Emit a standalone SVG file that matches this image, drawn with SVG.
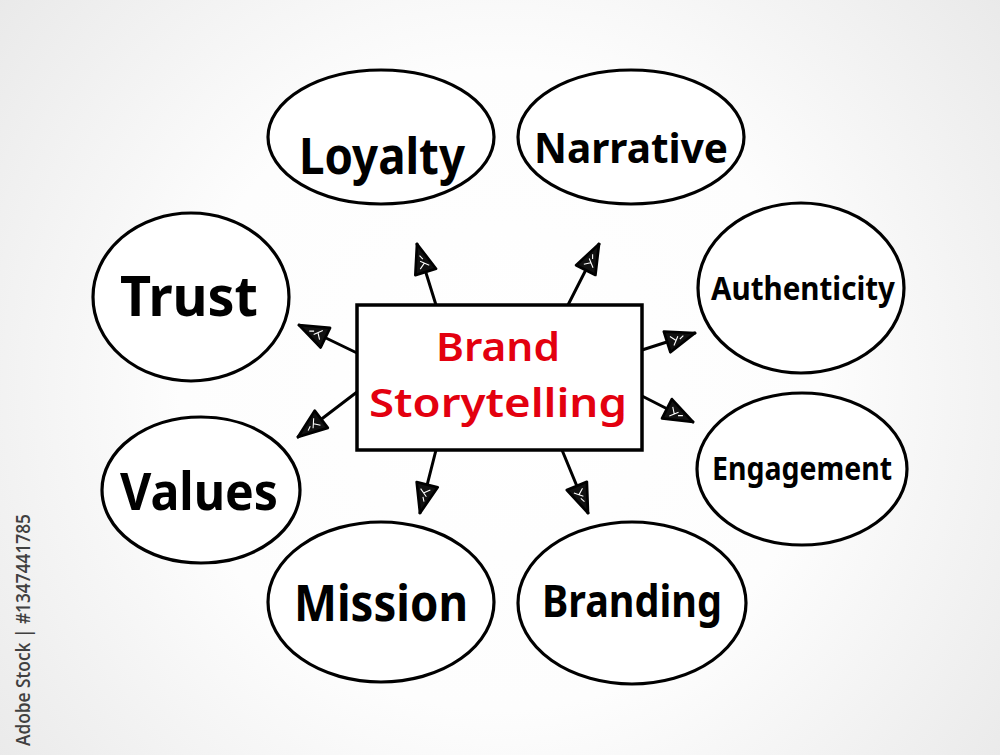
<svg xmlns="http://www.w3.org/2000/svg" width="1000" height="755" viewBox="0 0 1000 755">
  <defs>
    <radialGradient id="bg" cx="500" cy="390" r="640" gradientUnits="userSpaceOnUse">
      <stop offset="0" stop-color="#ffffff"/>
      <stop offset="0.5" stop-color="#fdfdfd"/>
      <stop offset="1" stop-color="#e9e9e9"/>
    </radialGradient>
    <marker id="head" viewBox="0 0 30 24" refX="29" refY="12" markerWidth="33" markerHeight="26" markerUnits="userSpaceOnUse" orient="auto">
      <path d="M2,2 L29,12 L2,22 Z" fill="#111" stroke="#000" stroke-width="2.5" stroke-linejoin="round"/>
      <path d="M6,8 L10,13 M7,17 L13,10 M14,13 L18,11" stroke="#fff" stroke-width="1" fill="none"/>
    </marker>
    <style>
      .bubble { fill: #ffffff; stroke: #000; stroke-width: 3.2; }
      .lbl { font-family: "Noto Sans", "DejaVu Sans", sans-serif; font-weight: 700; fill: #000; text-anchor: middle; }
      .ctr { font-family: "Noto Sans", "DejaVu Sans", sans-serif; font-weight: 600; fill: #e3000f; text-anchor: middle; }
      .conn { stroke: #000; stroke-width: 3; fill: none; stroke-linecap: round; marker-end: url(#head); }
    </style>
  </defs>

  <rect x="0" y="0" width="1000" height="755" fill="url(#bg)"/>

  <g id="connectors">
    <line class="conn" x1="436" y1="305" x2="417" y2="244"/>
    <line class="conn" x1="568" y1="305" x2="599" y2="244"/>
    <line class="conn" x1="357" y1="353" x2="299" y2="325"/>
    <line class="conn" x1="357" y1="392" x2="298" y2="437"/>
    <line class="conn" x1="436" y1="450" x2="420" y2="513"/>
    <line class="conn" x1="562" y1="450" x2="588" y2="513"/>
    <line class="conn" x1="642" y1="350" x2="695" y2="333"/>
    <line class="conn" x1="642" y1="396" x2="693" y2="422"/>
  </g>

  <g id="center">
    <rect x="357" y="305" width="285" height="145" fill="#ffffff" stroke="#000" stroke-width="3.5"/>
    <text class="ctr" x="498" y="361" font-size="40" textLength="124" lengthAdjust="spacingAndGlyphs">Brand</text>
    <text class="ctr" x="498" y="417" font-size="40" textLength="258" lengthAdjust="spacingAndGlyphs">Storytelling</text>
  </g>

  <g id="loyalty">
    <ellipse class="bubble" cx="381" cy="137" rx="113" ry="67"/>
    <text class="lbl" x="382" y="174" font-size="50" textLength="166" lengthAdjust="spacingAndGlyphs">Loyalty</text>
  </g>
  <g id="narrative">
    <ellipse class="bubble" cx="631" cy="137" rx="113" ry="67"/>
    <text class="lbl" x="631" y="163" font-size="42" textLength="194" lengthAdjust="spacingAndGlyphs">Narrative</text>
  </g>
  <g id="trust">
    <ellipse class="bubble" cx="191" cy="297" rx="98" ry="84"/>
    <text class="lbl" x="189" y="316" font-size="56" textLength="138" lengthAdjust="spacingAndGlyphs">Trust</text>
  </g>
  <g id="authenticity">
    <ellipse class="bubble" cx="801" cy="288" rx="103" ry="85"/>
    <text class="lbl" x="803" y="300" font-size="33" textLength="184" lengthAdjust="spacingAndGlyphs">Authenticity</text>
  </g>
  <g id="values">
    <ellipse class="bubble" cx="201" cy="490" rx="99" ry="73"/>
    <text class="lbl" x="199" y="510" font-size="52" textLength="158" lengthAdjust="spacingAndGlyphs">Values</text>
  </g>
  <g id="engagement">
    <ellipse class="bubble" cx="802" cy="469" rx="105" ry="76"/>
    <text class="lbl" x="802" y="480" font-size="32" textLength="180" lengthAdjust="spacingAndGlyphs">Engagement</text>
  </g>
  <g id="mission">
    <ellipse class="bubble" cx="381" cy="602" rx="113" ry="80"/>
    <text class="lbl" x="381" y="621" font-size="50" textLength="174" lengthAdjust="spacingAndGlyphs">Mission</text>
  </g>
  <g id="branding">
    <ellipse class="bubble" cx="632" cy="603" rx="114" ry="81"/>
    <text class="lbl" x="632" y="617" font-size="44" textLength="180" lengthAdjust="spacingAndGlyphs">Branding</text>
  </g>

  <text x="30" y="746" transform="rotate(-90 30 746)" font-family="'Open Sans', 'Noto Sans', sans-serif" font-size="20" font-weight="600" fill="#404040" textLength="232" lengthAdjust="spacingAndGlyphs">Adobe Stock | #1347441785</text>
</svg>
